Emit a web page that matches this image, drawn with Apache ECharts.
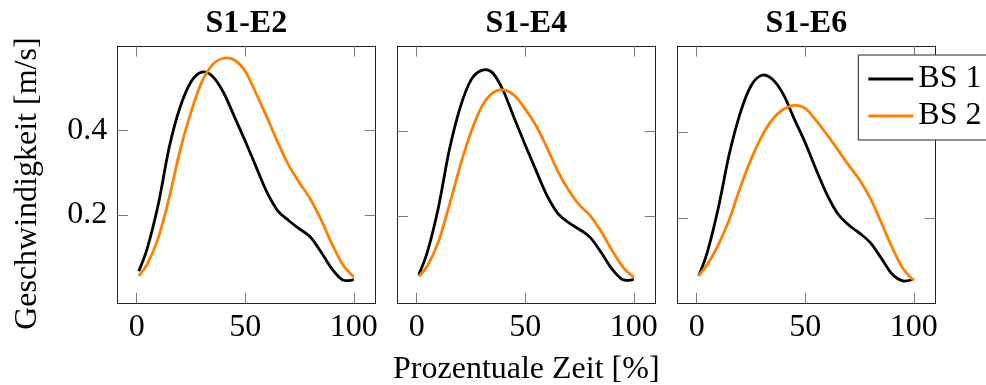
<!DOCTYPE html>
<html>
<head>
<meta charset="utf-8">
<script src="https://cdn.jsdelivr.net/npm/echarts@6/dist/echarts.min.js"></script>
<style>
html,body{margin:0;padding:0;background:#fff;width:986px;height:385px;overflow:hidden;}
#chart{width:1010px;height:385px;}
</style>
</head>
<body>
<div id="chart"></div>
<script>
// ---- data ----
const xPercent = [1, 5, 10, 15, 20, 25, 30, 35, 40, 45, 50, 55, 60, 65, 70, 75, 80, 85, 90, 95, 100];
const panelTitles = ['S1-E2', 'S1-E4', 'S1-E6'];
const seriesNames = ['BS 1', 'BS 2'];
const xTickValues = [0, 50, 100];
const yTickValues = [0.2, 0.4];
const yMinPerPanel = [-0.009, -0.003, 0.002];
const yMaxAll = 0.6;

const e2_bs1 = [0.067, 0.123, 0.226, 0.360, 0.455, 0.515, 0.538, 0.528, 0.490, 0.433, 0.375, 0.314, 0.254, 0.210, 0.187, 0.167, 0.148, 0.112, 0.072, 0.046, 0.047];
const e2_bs2 = [0.056, 0.085, 0.146, 0.241, 0.353, 0.443, 0.515, 0.556, 0.571, 0.567, 0.540, 0.488, 0.431, 0.372, 0.318, 0.276, 0.238, 0.188, 0.131, 0.082, 0.053];
const e4_bs1 = [0.064, 0.118, 0.221, 0.355, 0.455, 0.520, 0.543, 0.537, 0.494, 0.430, 0.368, 0.308, 0.250, 0.208, 0.186, 0.170, 0.151, 0.116, 0.077, 0.052, 0.053];
const e4_bs2 = [0.060, 0.085, 0.141, 0.226, 0.318, 0.398, 0.458, 0.490, 0.497, 0.484, 0.452, 0.413, 0.362, 0.307, 0.262, 0.227, 0.202, 0.165, 0.121, 0.082, 0.058];
const e6_bs1 = [0.066, 0.122, 0.224, 0.348, 0.443, 0.507, 0.532, 0.522, 0.487, 0.430, 0.375, 0.313, 0.255, 0.210, 0.184, 0.165, 0.143, 0.107, 0.070, 0.054, 0.058];
const e6_bs2 = [0.067, 0.093, 0.138, 0.196, 0.270, 0.336, 0.390, 0.430, 0.453, 0.462, 0.455, 0.427, 0.394, 0.359, 0.323, 0.289, 0.246, 0.190, 0.132, 0.083, 0.055];

const panelData = [[e2_bs1, e2_bs2], [e4_bs1, e4_bs2], [e6_bs1, e6_bs2]];
const seriesColors = ['#000000', '#ff8000'];

// ---- layout ----
const FONT = '"Liberation Serif", "Times New Roman", serif';
const gridLefts = [117.3, 397.3, 677.3];
const gridW = 258, gridTop = 46, gridH = 257.3;

const chart = echarts.init(document.getElementById('chart'), null, {renderer: 'canvas'});

const grids = [], xAxes = [], yAxes = [], series = [], titles = [];
const boxColor = '#222';
const tickStyle = {show: true, inside: true, length: 10.5, lineStyle: {color: '#7a7a7a', width: 1}};

// smooth curve through the projected data points (Catmull-Rom rendered as cubic Bezier)
function smoothPath(pts) {
  let d = 'M' + pts[0][0] + ' ' + pts[0][1];
  for (let i = 0; i < pts.length - 1; i++) {
    const p0 = pts[Math.max(0, i - 1)], p1 = pts[i], p2 = pts[i + 1], p3 = pts[Math.min(pts.length - 1, i + 2)];
    const c1x = p1[0] + (p2[0] - p0[0]) / 6, c1y = p1[1] + (p2[1] - p0[1]) / 6;
    const c2x = p2[0] - (p3[0] - p1[0]) / 6, c2y = p2[1] - (p3[1] - p1[1]) / 6;
    d += ' C' + c1x + ' ' + c1y + ' ' + c2x + ' ' + c2y + ' ' + p2[0] + ' ' + p2[1];
  }
  return d;
}

for (let p = 0; p < 3; p++) {
  grids.push({left: gridLefts[p], top: gridTop, width: gridW, height: gridH, containLabel: false, outerBoundsMode: 'none'});
  titles.push({
    text: panelTitles[p], left: gridLefts[p] + gridW / 2, top: 8, textAlign: 'center', padding: 0,
    textStyle: {fontFamily: FONT, fontSize: 32, fontWeight: 'bold', color: '#000', lineHeight: 32}
  });
  xAxes.push({
    type: 'value', gridIndex: p, position: 'bottom', min: -8.9, max: 109.9,
    axisLine: {show: true, onZero: false, lineStyle: {color: boxColor, width: 1}},
    axisTick: Object.assign({}, tickStyle, {customValues: xTickValues}),
    axisLabel: {show: true, customValues: xTickValues, margin: 8, fontFamily: FONT, fontSize: 32, color: '#000', lineHeight: 32},
    splitLine: {show: false},
    name: p === 1 ? 'Prozentuale Zeit [%]' : '', nameLocation: 'middle', nameGap: 50,
    nameTextStyle: {fontFamily: FONT, fontSize: 32, color: '#000', lineHeight: 32}
  });
  xAxes.push({
    type: 'value', gridIndex: p, position: 'top', min: -8.9, max: 109.9,
    axisLine: {show: true, onZero: false, lineStyle: {color: boxColor, width: 1}},
    axisTick: Object.assign({}, tickStyle, {customValues: xTickValues}),
    axisLabel: {show: false}, splitLine: {show: false}
  });
  yAxes.push({
    type: 'value', gridIndex: p, position: 'left', min: yMinPerPanel[p], max: yMaxAll,
    axisLine: {show: true, onZero: false, lineStyle: {color: boxColor, width: 1}},
    axisTick: Object.assign({}, tickStyle, {customValues: yTickValues}),
    axisLabel: {show: p === 0, customValues: yTickValues, margin: 10, fontFamily: FONT, fontSize: 32, color: '#000',
      formatter: v => v.toFixed(1)},
    splitLine: {show: false},
    name: p === 0 ? 'Geschwindigkeit [m/s]' : '', nameLocation: 'middle', nameGap: 74, nameRotate: 90,
    nameTextStyle: {fontFamily: FONT, fontSize: 32, color: '#000', lineHeight: 32, padding: [0, 18, 0, 0]}
  });
  yAxes.push({
    type: 'value', gridIndex: p, position: 'right', min: yMinPerPanel[p], max: yMaxAll,
    axisLine: {show: true, onZero: false, lineStyle: {color: boxColor, width: 1}},
    axisTick: Object.assign({}, tickStyle, {customValues: yTickValues}),
    axisLabel: {show: false}, splitLine: {show: false}
  });
  for (let s = 0; s < 2; s++) {
    const ys = panelData[p][s];
    const color = seriesColors[s];
    series.push({
      name: seriesNames[s], type: 'custom', coordinateSystem: 'cartesian2d',
      xAxisIndex: p * 2, yAxisIndex: p * 2,
      data: xPercent.map((x, i) => [x, ys[i]]),
      encode: {x: 0, y: 1},
      itemStyle: {color: color},
      z: 3 + s, silent: true, clip: true,
      renderItem: function (params, api) {
        if (params.dataIndex !== 0) return null;
        const pts = xPercent.map((x, i) => api.coord([x, ys[i]]));
        return {
          type: 'path',
          shape: {pathData: smoothPath(pts)},
          style: {stroke: color, lineWidth: 2.8, fill: null, lineJoin: 'round', lineCap: 'butt'},
          silent: true
        };
      }
    });
  }
}

const option = {
  backgroundColor: '#fff',
  animation: false,
  title: titles,
  legend: {
    data: seriesNames.map(n => ({name: n, icon: 'rect'})), orient: 'vertical', left: 858.3, top: 55,
    padding: [5.5, 14, 5.5, 10], itemGap: 0, itemWidth: 45, itemHeight: 3,
    backgroundColor: '#fff', borderColor: '#222', borderWidth: 1, borderRadius: 0,
    textStyle: {fontFamily: FONT, fontSize: 32, color: '#000', lineHeight: 37},
    selectedMode: false, z: 10
  },
  grid: grids,
  xAxis: xAxes,
  yAxis: yAxes,
  series: series
};
chart.setOption(option);
</script>
</body>
</html>
